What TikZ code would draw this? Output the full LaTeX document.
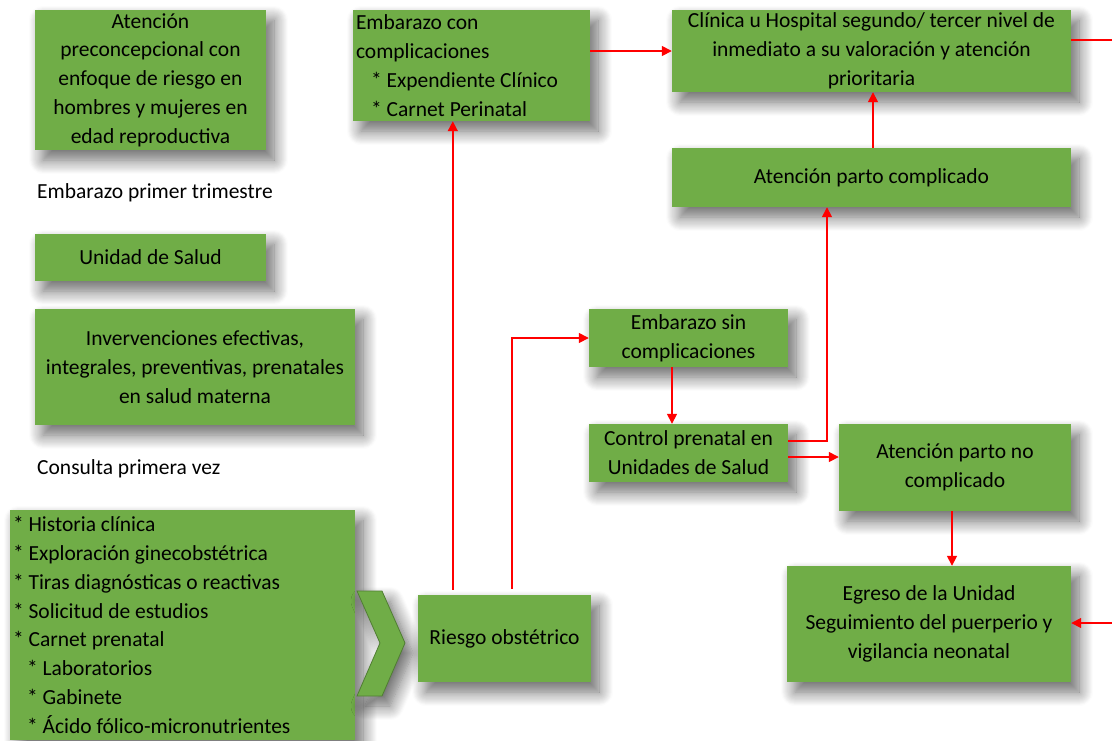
\documentclass[tikz,border=0pt]{standalone}
\usepackage{fontspec}
\setmainfont{Carlito}
\usetikzlibrary{arrows.meta,shadows.blur}
\definecolor{boxgreen}{HTML}{70AD47}
\definecolor{boxedge}{HTML}{507E32}
\definecolor{arrred}{HTML}{FF0000}
\tikzset{
  shad/.style={blur shadow={shadow xshift=8pt, shadow yshift=-10pt, shadow opacity=60, shadow blur radius=14pt, shadow blur steps=14}},
  gbox/.style={fill=boxgreen, shad, inner xsep=3pt, inner ysep=0pt, align=center,
     font=\fontsize{21.5}{28.8}\selectfont},
  lbox/.style={gbox, align=flush left},
  plain/.style={inner sep=0pt, anchor=west, font=\fontsize{21.5}{28.8}\selectfont},
  redline/.style={draw=arrred, line width=1.6pt},
  arr/.style={redline, -{Triangle[length=10pt,width=10pt]}}
}
\begin{document}
\begin{tikzpicture}[x=1pt,y=-1pt]
\useasboundingbox (0,0) rectangle (1112,740);
% left column
\node[gbox, minimum width=231, minimum height=140] (pre) at (150.5,80)
  {Atención\\preconcepcional con\\enfoque de riesgo en\\hombres y mujeres en\\edad reproductiva};
\node[plain] (t1) at (37,193) {Embarazo primer trimestre};
\node[gbox, minimum width=231, minimum height=47] (uds) at (150.5,257.5) {Unidad de Salud};
\node[gbox, minimum width=320, minimum height=116] (inter) at (195,367)
  {Invervenciones efectivas,\\integrales, preventivas, prenatales\\en salud materna};
\node[plain] (t2) at (37,469) {Consulta primera vez};
\node[lbox, text width=339, minimum width=345, minimum height=230] (lista) at (182.5,625)
  {* Historia clínica\\\relax* Exploración ginecobstétrica\\\relax* Tiras diagnósticas o reactivas\\\relax* Solicitud de estudios\\\relax* Carnet prenatal\\\hspace*{14pt}* Laboratorios\\\hspace*{14pt}* Gabinete\\\hspace*{14pt}* Ácido fólico-micronutrientes};
% chevron
\filldraw[fill=boxgreen, draw=boxedge, line width=0.8pt, shad]
  (357,591) -- (382,591) -- (405,643) -- (382,696) -- (357,696) -- (380,643) -- cycle;
\node[gbox, minimum width=173, minimum height=87] (riesgo) at (504.5,638.5) {Riesgo obstétrico};
% middle and right
\node[lbox, text width=231, minimum width=237, minimum height=111] (ecc) at (471.5,65.5)
  {Embarazo con\\complicaciones\\\hspace*{15pt}* Expendiente Clínico\\\hspace*{15pt}* Carnet Perinatal};
\node[gbox, minimum width=399, minimum height=82] (clin) at (871.5,51)
  {Clínica u Hospital segundo/ tercer nivel de\\inmediato a su valoración y atención\\prioritaria};
\node[gbox, minimum width=399, minimum height=59] (apc) at (871.5,177.5) {Atención parto complicado};
\node[gbox, minimum width=199, minimum height=58] (esc) at (688.5,338) {Embarazo sin\\complicaciones};
\node[gbox, minimum width=199, minimum height=58] (cpn) at (688.5,453) {Control prenatal en\\Unidades de Salud};
\node[gbox, minimum width=232, minimum height=87] (apnc) at (955,467.5) {Atención parto no\\complicado};
\node[gbox, minimum width=284, minimum height=116] (egr) at (929,624)
  {Egreso de la Unidad\\Seguimiento del puerperio y\\vigilancia neonatal};
% connectors
\coordinate (r1) at ([xshift=35pt,yshift=5pt]riesgo.north west);
\draw[arr] (r1) -- (r1 |- ecc.south);
\coordinate (r2) at ([xshift=94pt,yshift=6pt]riesgo.north west);
\draw[arr] (r2) |- (esc.west);
\draw[arr] (ecc.east |- clin.west) -- (clin.west);
\coordinate (cr) at ([yshift=11pt]clin.east);
\coordinate (edge1) at (1112,40);
\draw[redline] (cr) -- (cr -| edge1);
\coordinate (a1) at ([xshift=1.5pt]apc.north);
\draw[arr] (a1) -- (a1 |- clin.south);
\coordinate (c1) at ([yshift=12pt]cpn.east);
\draw[arr] (c1) -| ([xshift=-44.5pt]apc.south);
\coordinate (c2) at ([yshift=-4pt]cpn.east);
\draw[arr] (c2) -- (c2 -| apnc.west);
\draw[arr] ([xshift=-16.5pt]esc.south) -- ([xshift=-16.5pt]cpn.north);
\coordinate (c3) at ([xshift=-3pt]apnc.south);
\draw[arr] (c3) -- (c3 |- egr.north);
\coordinate (redge) at (1112,623);
\draw[arr] (redge) -- (redge -| egr.east);
\end{tikzpicture}
\end{document}
